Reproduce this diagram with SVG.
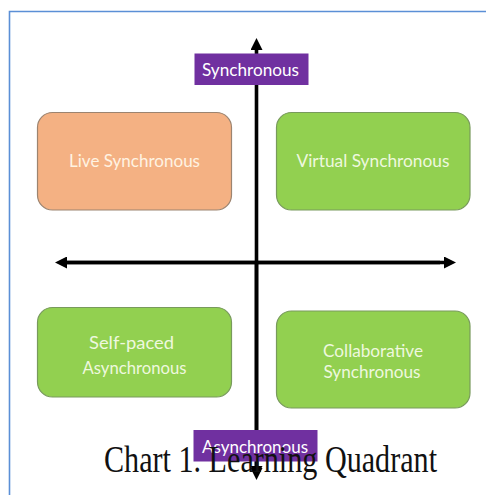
<svg xmlns="http://www.w3.org/2000/svg" width="486" height="495" viewBox="0 0 486 495">
  <style>
    .box { stroke-width: 1.2; }
    .orange { fill: #F4B183; stroke: #9C8470; }
    .green { fill: #92D050; stroke: #789A5C; }
    .lbl { font-family: Lato, "Open Sans", "Liberation Sans", sans-serif; font-size: 17px; text-anchor: middle; }
    .on-orange { fill: #FFF3E2; }
    .on-green { fill: #EEF8DF; }
    .tag { fill: #7030A0; }
    .tagtxt { fill: #FFFFFF; }
    .axis { stroke: #000000; stroke-width: 3.6; fill: none; }
    .caption { font-family: "Liberation Serif", "Times New Roman", serif; font-size: 38px; fill: #111111; }
  </style>
  <defs>
    <marker id="head" viewBox="0 0 12 12" refX="2" refY="6" markerWidth="12" markerHeight="12" markerUnits="userSpaceOnUse" orient="auto">
      <path d="M0,0 L12,6 L0,12 Z" fill="#000000"/>
    </marker>
  </defs>

  <rect width="486" height="495" fill="#FFFFFF"/>

  <!-- page frame -->
  <path d="M9.5,495 L9.5,11.5 L486,11.5" fill="none" stroke="#5B8FD6" stroke-width="1.6"/>

  <!-- axes -->
  <g id="connectors">
    <line class="axis" x1="256.5" y1="470" x2="256.5" y2="48" marker-end="url(#head)"/>
    <line class="axis" x1="256.5" y1="262.5" x2="256.5" y2="468" marker-end="url(#head)"/>
    <line class="axis" x1="60" y1="262.5" x2="446" y2="262.5" marker-end="url(#head)"/>
    <line class="axis" x1="440" y1="262.5" x2="65" y2="262.5" marker-end="url(#head)"/>
  </g>

  <g id="node-live">
    <rect class="box orange" x="37.5" y="112.5" width="194" height="97.5" rx="15"/>
    <text class="lbl on-orange" x="134.5" y="166.5" textLength="131" lengthAdjust="spacingAndGlyphs">Live Synchronous</text>
  </g>

  <g id="node-virtual">
    <rect class="box green" x="276.5" y="112.5" width="193.5" height="97.5" rx="15"/>
    <text class="lbl on-green" x="373" y="167" textLength="153" lengthAdjust="spacingAndGlyphs">Virtual Synchronous</text>
  </g>

  <g id="node-selfpaced">
    <rect class="box green" x="37.5" y="307.5" width="194" height="89.5" rx="15"/>
    <text class="lbl on-green" x="131.5" y="349" textLength="85" lengthAdjust="spacingAndGlyphs">Self-paced</text>
    <text class="lbl on-green" x="134.5" y="374" textLength="104" lengthAdjust="spacingAndGlyphs">Asynchronous</text>
  </g>

  <g id="node-collab">
    <rect class="box green" x="276.5" y="311" width="193.5" height="97" rx="15"/>
    <text class="lbl on-green" x="373" y="357" textLength="100" lengthAdjust="spacingAndGlyphs">Collaborative</text>
    <text class="lbl on-green" x="372" y="378" textLength="97" lengthAdjust="spacingAndGlyphs">Synchronous</text>
  </g>

  <g id="tag-sync">
    <rect class="tag" x="194.5" y="53.5" width="114" height="31.5"/>
    <text class="lbl tagtxt" x="250.5" y="76" textLength="97" lengthAdjust="spacingAndGlyphs">Synchronous</text>
  </g>

  <g id="tag-async">
    <rect class="tag" x="193.5" y="430" width="124" height="31.5"/>
    <text class="lbl tagtxt" x="255" y="453" textLength="106" lengthAdjust="spacingAndGlyphs">Asynchronous</text>
  </g>

  <!-- down arrowhead drawn over the tag -->
  <path d="M250.5,468 L262.5,468 L256.5,480 Z" fill="#000000"/>

  <text class="caption" x="104" y="471.5" textLength="333" lengthAdjust="spacingAndGlyphs">Chart 1. Learning Quadrant</text>
</svg>
